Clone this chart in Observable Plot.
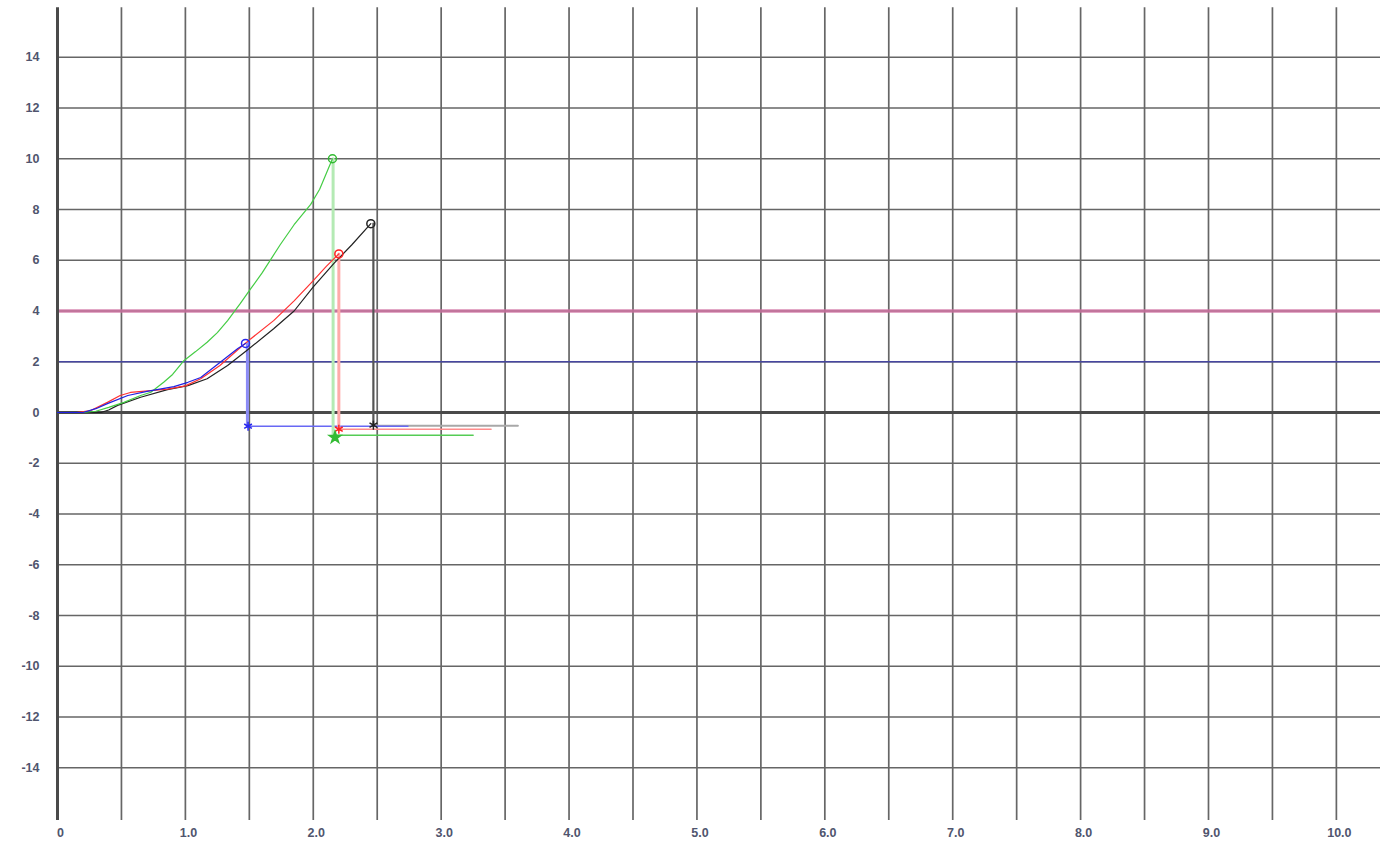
<!DOCTYPE html>
<html>
<head>
<meta charset="utf-8">
<script src="https://cdn.jsdelivr.net/npm/d3@7"></script>
<script src="https://cdn.jsdelivr.net/npm/@observablehq/plot@0.6"></script>
<style>
  html, body { margin: 0; padding: 0; background: #fff; }
</style>
</head>
<body>
<div id="chart"></div>
<script>
// Tick values
const xTicks = [0, 1, 2, 3, 4, 5, 6, 7, 8, 9, 10];
const xGrid = [0.5, 1, 1.5, 2, 2.5, 3, 3.5, 4, 4.5, 5, 5.5, 6, 6.5, 7, 7.5, 8, 8.5, 9, 9.5, 10];
const yTicks = [-14, -12, -10, -8, -6, -4, -2, 0, 2, 4, 6, 8, 10, 12, 14];

// Reference levels
const upperLevel = [4];
const lowerLevel = [2];

// Green series
const greenX = [0, 0.2, 0.3, 0.4, 0.52, 0.65, 0.73, 0.83, 0.9, 0.99, 1.08, 1.17, 1.25, 1.33, 1.43, 1.5, 1.6, 1.74, 1.85, 1.98, 2.05, 2.1, 2.15];
const greenY = [0, 0, 0.05, 0.2, 0.4, 0.67, 0.8, 1.19, 1.5, 2.05, 2.4, 2.77, 3.15, 3.62, 4.3, 4.8, 5.5, 6.6, 7.4, 8.2, 8.8, 9.4, 10.0];
// Red series
const redX = [0, 0.15, 0.26, 0.39, 0.49, 0.57, 0.73, 0.86, 1.0, 1.12, 1.27, 1.43, 1.51, 1.69, 1.85, 2.0, 2.1, 2.2];
const redY = [0, 0, 0.08, 0.4, 0.67, 0.79, 0.86, 0.92, 1.05, 1.33, 1.85, 2.56, 2.9, 3.62, 4.4, 5.2, 5.75, 6.25];
// Blue series
const blueX = [0, 0.2, 0.3, 0.39, 0.55, 0.7, 0.91, 1.02, 1.12, 1.27, 1.41, 1.47];
const blueY = [0, 0, 0.15, 0.35, 0.67, 0.83, 1.02, 1.19, 1.38, 1.97, 2.52, 2.72];
// Black series
const blackX = [0, 0.34, 0.4, 0.47, 0.65, 0.86, 1.02, 1.17, 1.33, 1.48, 1.69, 1.85, 2.0, 2.16, 2.3, 2.45];
const blackY = [0, 0, 0.1, 0.28, 0.6, 0.9, 1.06, 1.33, 1.85, 2.44, 3.3, 4.0, 4.95, 5.87, 6.6, 7.44];

// Break points (after peak): [dropX, dropY, tailEndX, starX]
const greenBreak = [2.155, -0.9, 3.25, 2.17, -0.98];
const redBreak = [2.2, -0.66, 3.39, 2.2, -0.66];
const blueBreak = [1.485, -0.54, 2.74, 1.49, -0.54];
const blackBreak = [2.47, -0.52, 3.6, 2.47, -0.5];

const series = [
  {name: "black", xs: blackX, ys: blackY, brk: blackBreak, line: "#222", drop: "#555", tail: "#a8a8a8", mark: "#222"},
  {name: "red", xs: redX, ys: redY, brk: redBreak, line: "#ff3030", drop: "#ffaaaa", tail: "#ff8c8c", mark: "#ff2020"},
  {name: "green", xs: greenX, ys: greenY, brk: greenBreak, line: "#44cc44", drop: "#b4eab4", tail: "#55cc55", mark: "#33bb33"},
  {name: "blue", xs: blueX, ys: blueY, brk: blueBreak, line: "#2020e0", drop: "#8c8cf6", tail: "#6868f4", mark: "#2a2aee"}
];

const pairs = (xs, ys) => xs.map((x, i) => [x, ys[i]]);

const marks = [
  Plot.ruleX(xGrid, {y1: -16.08, y2: 15.95, stroke: "#666", strokeWidth: 1.7}),
  Plot.ruleY(yTicks, {stroke: "#666", strokeWidth: 1.7}),
  Plot.ruleY(upperLevel, {stroke: "#cf6fa0", strokeWidth: 3.6, strokeOpacity: 0.8}),
  Plot.ruleY(lowerLevel, {stroke: "#4646a0", strokeWidth: 1.3}),
  Plot.ruleY([0], {stroke: "#4a4a4a", strokeWidth: 2.8}),
  Plot.ruleX([0], {y1: -16.08, y2: 15.95, stroke: "#4a4a4a", strokeWidth: 3})
];

// tails
for (const s of series) {
  marks.push(Plot.line([[s.brk[0], s.brk[1]], [s.brk[2], s.brk[1]]], {stroke: s.tail, strokeWidth: s.name === "black" ? 2 : 1.5}));
}
// drops (vertical)
for (const s of series) {
  const py = s.ys[s.ys.length - 1];
  marks.push(Plot.line([[s.brk[0], py], [s.brk[0], s.brk[1]]], {stroke: s.drop, strokeWidth: s.name === "black" ? 2.2 : 3}));
}
// curves
for (const s of series) {
  marks.push(Plot.line(pairs(s.xs, s.ys), {stroke: s.line, strokeWidth: 1.2}));
}
// markers
for (const s of series) {
  const px = s.xs[s.xs.length - 1], py = s.ys[s.ys.length - 1];
  marks.push(Plot.dot([[px, py]], {r: 4, stroke: s.mark, strokeWidth: 1.5, fill: "none"}));
  marks.push(Plot.dot([[s.brk[3], s.brk[4]]], {r: s.name === "green" ? 3.6 : 4.2, symbol: s.name === "green" ? "star" : "asterisk", stroke: s.mark, fill: s.mark, strokeWidth: 1.5}));
}

marks.push(Plot.axisX({ticks: xTicks, tickFormat: d => d === 0 ? "0" : d.toFixed(1), tickSize: 0, tickPadding: 10, dx: 3}));
marks.push(Plot.axisY({ticks: yTicks, tickFormat: d => String(d), tickSize: 0, tickPadding: 18}));

const chart = Plot.plot({
  width: 1380,
  height: 841,
  marginLeft: 57,
  marginRight: 0,
  marginTop: 6,
  marginBottom: 23,
  x: {domain: [0, 10.345], axis: null},
  y: {domain: [-16, 16], axis: null},
  style: {fontFamily: "'Liberation Sans', Arial, sans-serif", fontSize: "12.5px", fontWeight: "bold", color: "#50556e", background: "#fff"},
  marks
});
document.getElementById("chart").appendChild(chart);
</script>
</body>
</html>
